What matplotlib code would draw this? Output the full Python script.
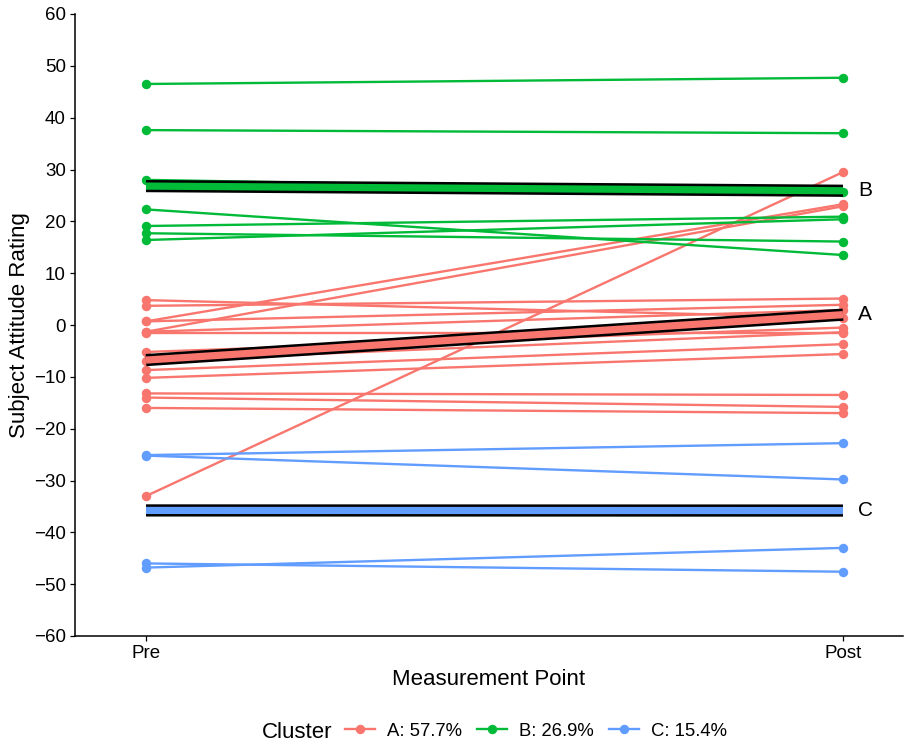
import matplotlib
matplotlib.use("Agg")
import matplotlib.pyplot as plt
from matplotlib.lines import Line2D
import numpy as np

plt.rcParams['font.family'] = ['Liberation Sans', 'DejaVu Sans']

# Measurement points
time_labels = ["Pre", "Post"]

# Subject ratings per cluster (pre, post)
a_pre = [4.8, 3.7, 0.7, 0.7, -1.3, -1.3, -1.6, -5.2, -6.9, -8.7, -10.2, -13.2, -14.0, -16.0, -33.0]
a_post = [1.4, 5.1, 23.3, 3.9, 22.9, 2.9, -1.6, -0.5, -1.4, -3.7, -5.6, -13.5, -15.8, -17.0, 29.5]

b_pre = [46.5, 37.6, 28.0, 22.3, 19.1, 17.7, 16.4]
b_post = [47.7, 37.0, 25.7, 13.5, 20.9, 16.1, 20.4]

c_pre = [-25.1, -25.2, -46.0, -46.8]
c_post = [-22.8, -29.8, -47.6, -43.0]

cluster_names = ["A", "B", "C"]
cluster_colors = ["#F8766D", "#00BA38", "#619CFF"]

clusters = [(a_pre, a_post), (b_pre, b_post), (c_pre, c_post)]
n_total = sum(len(p) for p, _ in clusters)

fig = plt.figure(figsize=(9.10, 7.44), dpi=100)
W, H = 910, 744
ax = fig.add_axes([75 / W, 1 - 636 / H, (903 - 75) / W, (636 - 14) / H])

x = np.array([0.0, 1.0])

# individual subject trajectories
for (pre, post), col in zip(clusters, cluster_colors):
    for p0, p1 in zip(pre, post):
        ax.plot(x, [p0, p1], color=col, lw=1.7, solid_capstyle='butt', zorder=2)
        ax.plot(x, [p0, p1], 'o', color=col, ms=6.8, mec='none', zorder=3)

# cluster mean trajectories
for (pre, post), col, name in zip(clusters, cluster_colors, cluster_names):
    m = [np.mean(pre), np.mean(post)]
    ax.plot(x, m, color='black', lw=8.8, solid_capstyle='butt', zorder=4)
    ax.plot(x, m, color=col, lw=5.2, solid_capstyle='butt', zorder=5)
    ax.text(1.022, m[1], name, ha='left', va='center', fontsize=15, color='black', zorder=6)

ax.set_xlim(-71 / 697, (903 - 146) / 697)
ax.set_ylim(-60, 60)
ax.set_yticks(np.arange(-60, 61, 10))
ax.set_yticklabels([f"{v}".replace("-", "\u2212") for v in range(-60, 61, 10)])
ax.set_xticks(x)
ax.set_xticklabels(time_labels)

for s in ['top', 'right']:
    ax.spines[s].set_visible(False)
for s in ['left', 'bottom']:
    ax.spines[s].set_linewidth(1.1)
ax.tick_params(axis='both', length=3.5, width=0.9, labelsize=13.5, colors='black', pad=3)

ax.set_xlabel("Measurement Point", fontsize=16, labelpad=5)
ax.set_ylabel("Subject Attitude Rating", fontsize=16, labelpad=3)

# legend along the bottom
handles = [Line2D([0], [0], color=c, lw=1.7, marker='o', ms=6.8, mec='none') for c in cluster_colors]
labels = [f"{n}: {100 * len(p) / n_total:.1f}%" for n, (p, _) in zip(cluster_names, clusters)]
fig.text(262 / W, 1 - 733 / H, "Cluster", fontsize=16, ha='left', va='center')
fig.legend(handles, labels, loc='center left', bbox_to_anchor=(345 / W, 1 - 731 / H),
           ncol=3, frameon=False, fontsize=13.3, handlelength=1.6, handletextpad=0.65,
           columnspacing=0.85, borderpad=0, borderaxespad=0, numpoints=1)

fig.savefig("out.png", dpi=100)
